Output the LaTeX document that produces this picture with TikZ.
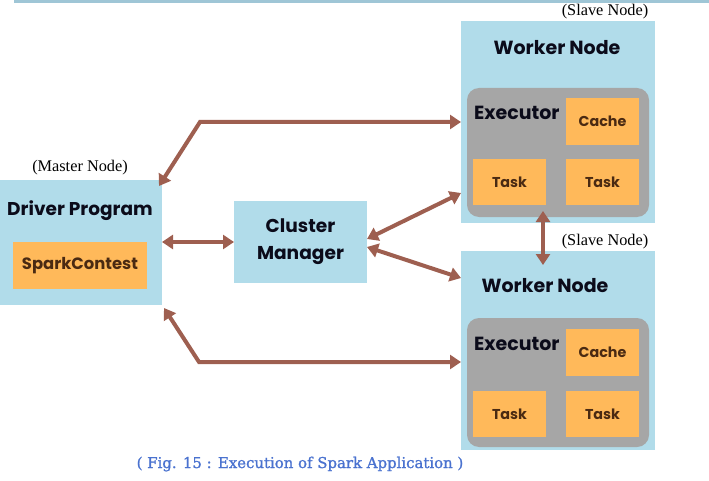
\documentclass[tikz,border=0pt]{standalone}
\usepackage{fontspec}
\setmainfont{Liberation Serif}
\newfontfamily\pop{Poppins}
\newfontfamily\capfont[FakeBold=1.2]{DejaVu Serif}
\usetikzlibrary{arrows.meta}
\definecolor{lblue}{HTML}{B1DCEA}
\definecolor{topbar}{HTML}{9FC6D6}
\definecolor{orng}{HTML}{FFB95A}
\definecolor{gry}{HTML}{A6A6A6}
\definecolor{brn}{HTML}{9E5F50}
\definecolor{dtxt}{HTML}{0B0B1A}
\definecolor{otxt}{HTML}{4A2A12}
\definecolor{capblue}{HTML}{4A72CF}
\tikzset{
  box/.style={fill=#1, draw=none, inner sep=0pt, outer sep=0pt, anchor=north west},
  title/.style={font=\pop\bfseries\fontsize{19}{22}\selectfont, text=dtxt, inner sep=0pt},
  small/.style={font=\pop\bfseries\fontsize{14.3}{16}\selectfont, text=otxt, inner sep=0pt},
  serifnote/.style={font=\fontsize{16.3}{18}\selectfont, text=black, inner sep=0pt},
  arr/.style={draw=brn, line width=4pt, {Triangle[length=11pt,width=14pt]}-{Triangle[length=11pt,width=14pt]}},
}
\begin{document}
\begin{tikzpicture}[x=1pt,y=-1pt]
\useasboundingbox (0,0) rectangle (709,481);
\fill[topbar] (14,0) rectangle (709,3);
% Worker node 1
\node[box=lblue, minimum width=194pt, minimum height=202pt] (w1) at (461,21) {};
\node[title] (w1t) at (557,48) {Worker Node};
\node[serifnote] (s1) at (605,12) {(Slave Node)};
\node[box=gry, rounded corners=12pt, minimum width=182pt, minimum height=129pt] (e1) at (467,88) {};
\node[title, anchor=west] (e1t) at (474,113) {Executor};
\node[box=orng, minimum width=73pt, minimum height=47pt] (c1) at (566,98) {};
\node[small] at (c1.center) {Cache};
\node[box=orng, minimum width=73pt, minimum height=46pt] (t1a) at (473,159) {};
\node[small] at (t1a.center) {Task};
\node[box=orng, minimum width=73pt, minimum height=46pt] (t1b) at (566,159) {};
\node[small] at (t1b.center) {Task};
% Worker node 2
\node[box=lblue, minimum width=194pt, minimum height=199pt] (w2) at (461,251) {};
\node[title] (w2t) at (545,286) {Worker Node};
\node[serifnote] (s2) at (605,242) {(Slave Node)};
\node[box=gry, rounded corners=12pt, minimum width=182pt, minimum height=129pt] (e2) at (467,318) {};
\node[title, anchor=west] (e2t) at (474,344) {Executor};
\node[box=orng, minimum width=73pt, minimum height=47pt] (c2) at (566,329) {};
\node[small] at (c2.center) {Cache};
\node[box=orng, minimum width=73pt, minimum height=46pt] (t2a) at (473,391) {};
\node[small] at (t2a.center) {Task};
\node[box=orng, minimum width=73pt, minimum height=46pt] (t2b) at (566,391) {};
\node[small] at (t2b.center) {Task};
% Driver
\node[box=lblue, minimum width=162pt, minimum height=125pt] (drv) at (0,180) {};
\node[title, font=\pop\bfseries\fontsize{18.5}{22}\selectfont] (drvt) at (80,211) {Driver Program};
\node[serifnote] (mn) at (80,168) {(Master Node)};
\node[box=orng, minimum width=134pt, minimum height=47pt] (sc) at (13,242) {};
\node[title, font=\pop\bfseries\fontsize{16.4}{19}\selectfont, text=otxt] at (sc.center) {SparkContest};
% Cluster manager
\node[box=lblue, minimum width=133pt, minimum height=82pt] (cm) at (234,201) {};
\node[title, align=center, font=\pop\bfseries\fontsize{18.6}{27}\selectfont] at (cm.center) {Cluster\\Manager};
% Caption
\node[font=\capfont\fontsize{14.9}{18}\selectfont, text=capblue, inner sep=0pt] (cap) at (300,464) {( Fig. 15 : Execution of Spark Application )};
% Arrows
\coordinate (tb) at (200,122);
\coordinate (bb) at (199,362);
\draw[arr] ([xshift=-3pt,yshift=-6pt]drv.north east) -- (tb) -- (w1.west |- tb);
\draw[arr] ([xshift=2pt,yshift=-3pt]drv.south east) -- (bb) -- (w2.west |- bb);
\draw[arr] (drv.east |- 0,242) -- (cm.west |- 0,242);
\draw[arr] ([yshift=-1pt]cm.east |- 0,238) -- ([yshift=0pt]w1.west |- 0,193);
\draw[arr] (cm.east |- 0,247) -- (w2.west |- 0,278);
\draw[arr] (543,211) -- (543,265);
\end{tikzpicture}
\end{document}
